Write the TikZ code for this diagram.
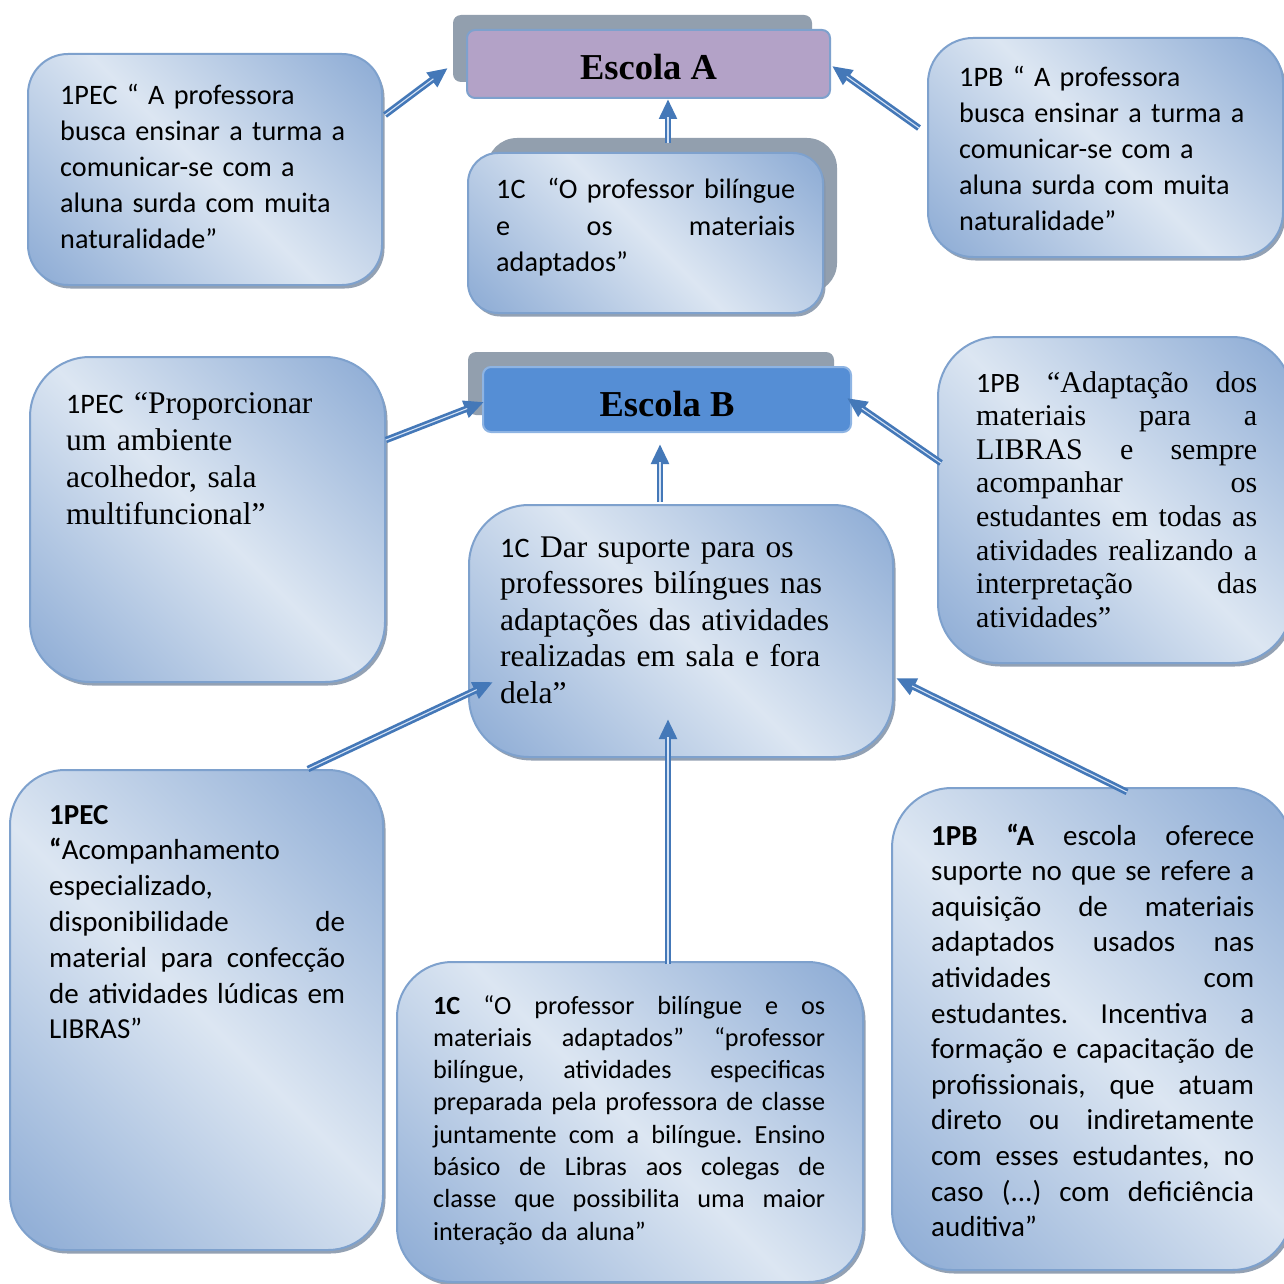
\documentclass[tikz,border=0pt]{standalone}
\usepackage{fontspec}
\setmainfont{Liberation Serif}
\newfontfamily\calfont{Carlito}
\usetikzlibrary{shadows,calc,arrows.meta}
\definecolor{bdark}{HTML}{93B0D7}
\definecolor{blight}{HTML}{DCE6F2}
\definecolor{bline}{HTML}{7EA1CD}
\definecolor{bshadow}{HTML}{8897AB}
\definecolor{backgray}{HTML}{929FAE}
\definecolor{purp}{HTML}{B3A2C7}
\definecolor{blueB}{HTML}{558ED5}
\definecolor{blueBline}{HTML}{8EB4E3}
\definecolor{adark}{HTML}{4478B8}
\definecolor{alight}{HTML}{D5E3F5}
\pgfdeclarehorizontalshading{boxshade}{100bp}{color(0bp)=(bdark); color(18bp)=(bdark); color(50bp)=(blight); color(82bp)=(bdark); color(100bp)=(bdark)}
\newcommand\jl[2]{\leavevmode\hbox to #1{\spaceskip=0.23em plus 1fil minus 0.08em\xspaceskip=\spaceskip\relax #2}}
\newcommand\conn[2]{\draw[arrshaft] #1 -- #2; \draw[arrstripe] #1 -- #2;}
\frenchspacing
\begin{document}
\begin{tikzpicture}[x=1pt,y=-1pt,
  gbox/.style={draw=bline, line width=2pt, shade, shading=boxshade, shading angle=45, inner sep=0pt,
    drop shadow={shadow xshift=2.5pt, shadow yshift=-3.5pt, fill=bshadow, opacity=0.9}},
  backbox/.style={fill=backgray, inner sep=0pt, rounded corners=8pt},
  arrshaft/.style={draw=adark, line width=6.5pt, -{Triangle[length=20pt,width=17pt]}},
  arrstripe/.style={draw=alight, line width=1.1pt, shorten >=18pt},
  txt/.style={inner sep=0pt, align=left, anchor=base west},
  escola/.style={inner sep=0pt, line width=2pt, rounded corners=8pt, font=\bfseries\fontsize{36.5}{40}\selectfont}]
\fill[white] (0,0) rectangle (1284,1284);
\useasboundingbox (0,0) rectangle (1284,1284);

% Escola A
\node[backbox, minimum width=359pt, minimum height=67pt] (escAb) at (632.5,48.5) {};
\node[escola, draw=bline, fill=purp, minimum width=363pt, minimum height=68pt] (escA) at (648.5,64) {\raisebox{-3pt}[\height][\depth]{Escola A}};

% top boxes
\node[gbox, rounded corners=40pt, minimum width=354pt, minimum height=231pt] (tlA) at (205,169.5) {};
\node[backbox, rounded corners=30pt, minimum width=350pt, minimum height=155pt] (c1b) at (662,215.5) {};
\node[gbox, rounded corners=30pt, minimum width=355pt, minimum height=160pt] (c1) at (645.5,233) {};
\node[gbox, rounded corners=45pt, minimum width=355pt, minimum height=219pt] (trA) at (1105.5,147.5) {};

% Escola B
\node[backbox, minimum width=366pt, minimum height=63pt] (escBb) at (651,383.5) {};
\node[escola, draw=blueBline, fill=blueB, minimum width=368pt, minimum height=65pt] (escB) at (667,399.5) {\raisebox{-4.5pt}[\height][\depth]{Escola B}};

% middle boxes
\node[gbox, rounded corners=60pt, minimum width=355pt, minimum height=325pt] (mlB) at (207.5,519.5) {};
\node[gbox, rounded corners=60pt, minimum width=354pt, minimum height=326pt] (mrB) at (1115,500) {};
\node[gbox, rounded corners=60pt, minimum width=424pt, minimum height=252pt] (cB) at (681,631) {};

% bottom boxes
\node[gbox, rounded corners=55pt, minimum width=373pt, minimum height=480pt] (blB) at (196.5,1010) {};
\node[gbox, rounded corners=55pt, minimum width=466pt, minimum height=320pt] (bmB) at (630,1122) {};
\node[gbox, rounded corners=60pt, minimum width=400pt, minimum height=482pt] (brB) at (1092,1029) {};

% connectors
\conn{($(tlA.east)+(2,-54.5)$)}{($(escAb.west)+(-5,19.5)$)}
\conn{($(c1b.north)+(6,5)$)}{($(escA.south)+(19.5,0)$)}
\conn{($(trA.west)+(-8,-19.5)$)}{($(escA.east)+(1,2)$)}
\conn{($(mlB.east)+(0,-79.5)$)}{($(escB.west)+(2,2.5)$)}
\conn{($(mrB.west)+(4,-37)$)}{($(escB.east)+(-5,-1.5)$)}
\conn{($(cB.north)+(-21,-2)$)}{($(escB.south)+(-7,11)$)}
\conn{($(blB.north)+(111.5,0)$)}{($(cB.west)+(25,51)$)}
\conn{($(bmB.north)+(38,3)$)}{($(cB.south)+(-13,-39)$)}
\conn{($(brB.north)+(35,5)$)}{($(cB.east)+(2,47)$)}

% texts
\node[txt, font=\calfont\fontsize{28.2}{36}\selectfont, text width=320pt] (t1) at (60,105)
 {1PEC “ A professora\\busca ensinar a turma a\\comunicar-se com a\\aluna surda com muita\\naturalidade”};
\node[txt, font=\calfont\fontsize{28.2}{36}\selectfont, text width=320pt] (t2) at (959,87)
 {1PB “ A professora\\busca ensinar a turma a\\comunicar-se com a\\aluna surda com muita\\naturalidade”};
\node[txt, font=\calfont\fontsize{28.2}{36}\selectfont, text width=299pt] (t3) at (496,199)
 {\leavevmode\hbox to 299pt{1C\hfill“O professor bilíngue}\\\jl{299pt}{e os materiais}\\adaptados”};
\node[txt, font=\fontsize{31.5}{37}\selectfont, text width=320pt] (t4) at (66,413)
 {{\calfont\fontsize{28.2}{37}\selectfont 1PEC} “Proporcionar\\um ambiente\\acolhedor, sala\\multifuncional”};
\node[txt, font=\fontsize{30}{33.6}\selectfont, text width=281pt] (t5) at (976,392)
 {\jl{281pt}{{\calfont\fontsize{28}{33.6}\selectfont 1PB} “Adaptação dos}\\
  \jl{281pt}{materiais para a}\\
  \jl{281pt}{LIBRAS e sempre}\\
  \jl{281pt}{acompanhar os}\\
  \jl{281pt}{estudantes em todas as}\\
  \jl{281pt}{atividades realizando a}\\
  \jl{281pt}{interpretação das}\\
  atividades”};
\node[txt, font=\fontsize{31.5}{36.5}\selectfont, text width=400pt] (t6) at (500,557)
 {{\calfont\fontsize{28.2}{36}\selectfont 1C} Dar suporte para os\\professores bilíngues nas\\adaptações das atividades\\realizadas em sala e fora\\dela”};
\node[txt, font=\calfont\fontsize{29}{35.8}\selectfont, text width=296pt] (t7) at (49,824)
 {\textbf{1PEC}\\\textbf{“}Acompanhamento\\especializado,\\
  \jl{296pt}{disponibilidade de}\\
  \jl{296pt}{material para confecção}\\
  \jl{296pt}{de atividades lúdicas em}\\
  LIBRAS”};
\node[txt, font=\calfont\fontsize{26.2}{32.3}\selectfont, text width=392pt] (t8) at (433,1014)
 {\jl{392pt}{\textbf{1C} “O professor bilíngue e os}\\
  \jl{392pt}{materiais adaptados” “professor}\\
  \jl{392pt}{bilíngue, atividades especificas}\\
  \jl{392pt}{preparada pela professora de classe}\\
  \jl{392pt}{juntamente com a bilíngue. Ensino}\\
  \jl{392pt}{básico de Libras aos colegas de}\\
  \jl{392pt}{classe que possibilita uma maior}\\
  interação da aluna”};
\node[txt, font=\calfont\fontsize{29}{35.6}\selectfont, text width=323pt] (t9) at (931,845)
 {\jl{323pt}{\textbf{1PB “A} escola oferece}\\
  \jl{323pt}{suporte no que se refere a}\\
  \jl{323pt}{aquisição de materiais}\\
  \jl{323pt}{adaptados usados nas}\\
  \jl{323pt}{atividades com}\\
  \jl{323pt}{estudantes. Incentiva a}\\
  \jl{323pt}{formação e capacitação de}\\
  \jl{323pt}{profissionais, que atuam}\\
  \jl{323pt}{direto ou indiretamente}\\
  \jl{323pt}{com esses estudantes, no}\\
  \jl{323pt}{caso (...) com deficiência}\\
  auditiva”};
\end{tikzpicture}
\end{document}
